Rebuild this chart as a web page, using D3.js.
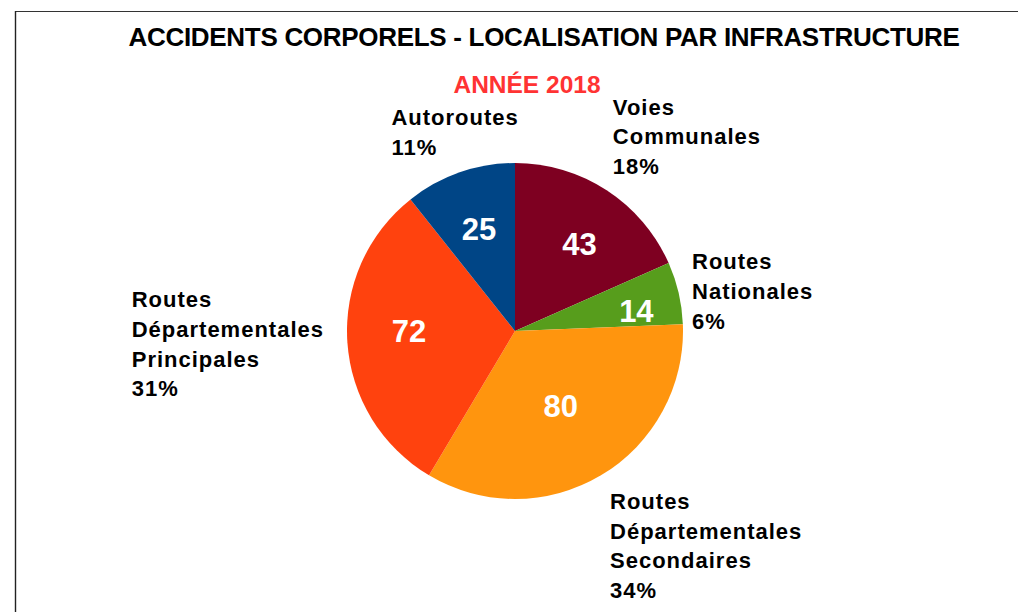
<!DOCTYPE html>
<html>
<head>
<meta charset="utf-8">
<script src="https://cdn.jsdelivr.net/npm/d3@7"></script>
<style>
  html, body { margin: 0; padding: 0; background: #fff; }
  svg { display: block; font-family: "Liberation Sans", Arial, sans-serif; }
</style>
</head>
<body>
<svg id="chart" width="1018" height="612"></svg>
<script>
// Accidents by road type, 2018
const categories = ["Voies Communales", "Routes Nationales", "Routes Départementales Secondaires", "Routes Départementales Principales", "Autoroutes"];
const values = [43, 14, 80, 72, 25];
const labelLines = [
  ["Voies", "Communales"],
  ["Routes", "Nationales"],
  ["Routes", "Départementales", "Secondaires"],
  ["Routes", "Départementales", "Principales"],
  ["Autoroutes"]
];
const colors = ["#7e0021", "#579d1c", "#ff950e", "#ff420e", "#004586"];
const titleText = "ACCIDENTS CORPORELS - LOCALISATION PAR INFRASTRUCTURE";
const subtitleText = "ANNÉE 2018";

// Layout: value-label nudges and outer-label block placement
const layout = {
  cx: 515, cy: 331, r: 168,
  inner: [ {dx: 5, dy: 4.5}, {dx: 15, dy: 4.7}, {dx: -10, dy: -18.8}, {dx: 3, dy: -7.3}, {dx: 0, dy: 0.6} ],
  outer: [
    {h: "start",  v: "bottom", dx: -3,   dy: -2},
    {h: "start",  v: "middle", dx: -3,   dy: 2.5},
    {h: "start",  v: "top",    dx: 0.5,  dy: 4.3},
    {h: "end",    v: "middle", dx: -6.6, dy: 0.8},
    {h: "middle", v: "bottom", dx: 1,    dy: -1.5}
  ],
  lineHeight: 29.7,
  capHeight: 15
};

const svg = d3.select("#chart");

// Frame
svg.append("line").attr("x1", 15).attr("y1", 11.5).attr("x2", 1018).attr("y2", 11.5)
  .attr("stroke", "#333").attr("stroke-width", 1.2);
svg.append("line").attr("x1", 15.5).attr("y1", 11).attr("x2", 15.5).attr("y2", 612)
  .attr("stroke", "#222").attr("stroke-width", 1.4);

// Titles
svg.append("text").attr("x", 544).attr("y", 46).attr("text-anchor", "middle")
  .attr("font-size", 26).attr("font-weight", "bold").attr("letter-spacing", "-0.3px")
  .attr("fill", "#000").text(titleText);
svg.append("text").attr("x", 527).attr("y", 93).attr("text-anchor", "middle")
  .attr("font-size", 24.5).attr("font-weight", "bold").attr("fill", "#ff3333")
  .text(subtitleText);

const total = d3.sum(values);
const pie = d3.pie().sort(null).value(d => d)(values);
const arc = d3.arc().innerRadius(0).outerRadius(layout.r);

const g = svg.append("g").attr("transform", `translate(${layout.cx},${layout.cy})`);

g.selectAll("path.slice").data(pie).join("path")
  .attr("class", "slice")
  .attr("d", arc)
  .attr("fill", (d, i) => colors[i]);

// Point at the middle angle of a slice, at a given radius
function polar(d, radius) {
  const a = (d.startAngle + d.endAngle) / 2;
  return [Math.sin(a) * radius, -Math.cos(a) * radius];
}

// Value labels inside the slices
g.selectAll("text.value").data(pie).join("text")
  .attr("class", "value")
  .attr("x", (d, i) => polar(d, layout.r * 0.65)[0] + layout.inner[i].dx)
  .attr("y", (d, i) => polar(d, layout.r * 0.65)[1] + layout.inner[i].dy + 11)
  .attr("text-anchor", "middle")
  .attr("font-size", 31).attr("font-weight", "bold").attr("fill", "#fff")
  .text(d => d.value);

// Category + percentage labels outside the pie
pie.forEach((d, i) => {
  const lines = labelLines[i].concat([Math.round(d.value / total * 100) + "%"]);
  const o = layout.outer[i];
  const p = polar(d, layout.r * 1.1);
  const block = g.append("g");
  const texts = block.selectAll("text").data(lines).join("text")
    .attr("x", 0)
    .attr("y", (t, k) => k * layout.lineHeight)
    .attr("font-size", 22).attr("font-weight", "bold").attr("letter-spacing", "1px")
    .attr("fill", "#000")
    .text(t => t);
  let w = 0;
  texts.each(function() { w = Math.max(w, this.getComputedTextLength()); });
  const n = lines.length;
  let left = p[0] + o.dx;
  if (o.h === "middle") left -= w / 2;
  if (o.h === "end") left -= w;
  let firstBase;
  if (o.v === "bottom") firstBase = p[1] + o.dy - (n - 1) * layout.lineHeight;
  else if (o.v === "top") firstBase = p[1] + o.dy + layout.capHeight;
  else firstBase = p[1] + o.dy - (n - 1) * layout.lineHeight / 2 + layout.capHeight / 2;
  block.attr("transform", `translate(${left},${firstBase})`);
});
</script>
</body>
</html>
